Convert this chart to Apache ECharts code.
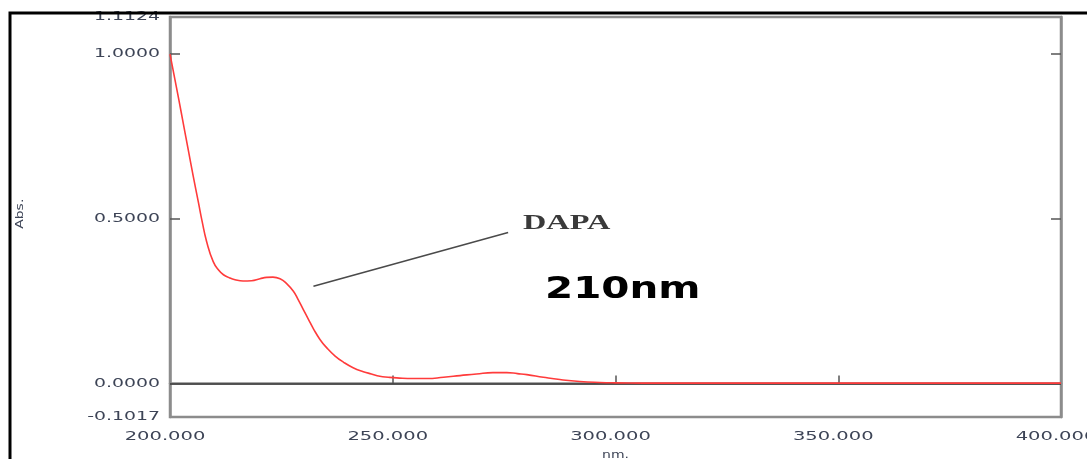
<!DOCTYPE html>
<html>
<head>
<meta charset="utf-8">
<script src="https://cdn.jsdelivr.net/npm/echarts@6/dist/echarts.min.js"></script>
<style>
  html, body { margin: 0; padding: 0; background: #fff; }
  #chart { width: 1087px; height: 459px; }
</style>
</head>
<body>
<div id="chart"></div>
<script>
// UV absorption spectrum of DAPA (wavelength in nm, absorbance)
const wavelengths = [200, 201, 202, 203, 204.1, 205.2, 206.4, 207.2, 208.2, 209.7, 211.0, 212.0, 213.3, 214.6, 216.4, 218.3, 220.2, 221.7, 223.1, 224.7, 226.2, 227.7, 228.8, 229.9, 231.1, 232.2, 233.7, 235.2, 237.0, 238.9, 241.1, 243.4, 245.2, 247.1, 249.0, 250.9, 254.6, 257.7, 261.4, 265.1, 268.8, 272.5, 275.6, 278.0, 280.1, 283.8, 287.5, 292.0, 296.5, 300, 310, 320, 330, 340, 350, 360, 370, 380, 390, 400];
const absorbance = [1.000, 0.930, 0.860, 0.788, 0.709, 0.630, 0.548, 0.493, 0.432, 0.370, 0.343, 0.330, 0.321, 0.315, 0.311, 0.312, 0.318, 0.322, 0.323, 0.318, 0.303, 0.280, 0.254, 0.225, 0.194, 0.166, 0.133, 0.108, 0.084, 0.065, 0.048, 0.036, 0.029, 0.022, 0.019, 0.017, 0.015, 0.015, 0.019, 0.024, 0.029, 0.033, 0.033, 0.030, 0.027, 0.019, 0.012, 0.006, 0.003, 0.002, 0.001, 0.001, 0.001, 0.001, 0.001, 0.001, 0.001, 0.001, 0.001, 0.001];
const yTickLabels = [-0.1017, 0, 0.5, 1, 1.1124];
const xTickLabels = [200, 250, 300, 350, 400];
const compoundName = 'DAPA';
const wavelengthNote = '210nm';

const chart = echarts.init(document.getElementById('chart'), null, { renderer: 'canvas' });

const tickFont = '13px "DejaVu Sans", Verdana, sans-serif';
const tickColor = '#3d4456';

chart.setOption({
  backgroundColor: '#ffffff',
  animation: false,
  grid: {
    left: 170, right: 26, top: 17, bottom: 42,
    outerBoundsMode: 'none', containLabel: false,
    show: true, borderColor: '#8c8c8c', borderWidth: 2.5,
    backgroundColor: 'transparent'
  },
  xAxis: {
    type: 'value', min: 200, max: 400,
    axisLine: { show: true, lineStyle: { color: '#8c8c8c', width: 2.5 } },
    axisTick: { show: true, inside: true, length: 8, customValues: [250, 300, 350],
                lineStyle: { color: '#555', width: 1.5 } },
    axisLabel: { show: false },
    splitLine: { show: false }
  },
  yAxis: [{
    type: 'value', min: -0.1017, max: 1.1124,
    axisLine: { show: true, lineStyle: { color: '#8c8c8c', width: 2.5 } },
    axisTick: { show: true, inside: true, length: 10, customValues: [0.5, 1],
                lineStyle: { color: '#555', width: 1.5 } },
    axisLabel: { show: false },
    splitLine: { show: false }
  }, {
    type: 'value', min: -0.1017, max: 1.1124, position: 'right',
    axisLine: { show: true, lineStyle: { color: '#8c8c8c', width: 2.5 } },
    axisTick: { show: true, inside: true, length: 10, customValues: [0.5, 1],
                lineStyle: { color: '#555', width: 1.5 } },
    axisLabel: { show: false },
    splitLine: { show: false }
  }],
  series: [{
    type: 'line',
    data: wavelengths.map((w, i) => [w, absorbance[i]]),
    smooth: 0.5,
    showSymbol: false,
    lineStyle: { color: '#ff3b3b', width: 1.6 },
    z: 3,
    markLine: {
      silent: true, symbol: 'none', label: { show: false }, z: 2,
      data: [
        [{ coord: [200, 0], lineStyle: { color: '#3a3a3a', width: 1.5, type: 'solid' } },
         { coord: [400, 0] }],
        [{ coord: [232.2, 0.295], lineStyle: { color: '#4a4a4a', width: 1.6, type: 'solid' } },
         { coord: [275.9, 0.458] }]
      ]
    }
  }]
});

// Tick labels and axis names, placed on the axis scales and widened like the instrument printout
const labels = [];
yTickLabels.forEach(v => {
  const p = chart.convertToPixel({ xAxisIndex: 0, yAxisIndex: 0 }, [200, v]);
  labels.push({
    type: 'text', x: p[0] - 10, y: p[1], scaleX: 1.45, z: 5, silent: true,
    style: { text: v.toFixed(4), font: tickFont, fill: tickColor, align: 'right', verticalAlign: 'middle' }
  });
});
xTickLabels.forEach(v => {
  const p = chart.convertToPixel({ xAxisIndex: 0, yAxisIndex: 0 }, [v, -0.1017]);
  labels.push({
    type: 'text', x: p[0] - 5, y: p[1] + 20, scaleX: 1.5, z: 5, silent: true,
    style: { text: v.toFixed(3), font: tickFont, fill: tickColor, align: 'center', verticalAlign: 'middle' }
  });
});
const midX = chart.convertToPixel({ xAxisIndex: 0 }, 300);
const midY = chart.convertToPixel({ yAxisIndex: 0 }, 0.5);
labels.push({
  type: 'text', x: midX, y: 455, scaleX: 1.4, z: 5, silent: true,
  style: { text: 'nm.', font: '10px "DejaVu Sans", sans-serif', fill: tickColor, align: 'center', verticalAlign: 'middle' }
});
labels.push({
  type: 'text', x: 20, y: midY - 5, rotation: Math.PI / 2, scaleX: 1.4, z: 5, silent: true,
  style: { text: 'Abs.', font: '10px "DejaVu Sans", sans-serif', fill: tickColor, align: 'center', verticalAlign: 'middle' }
});

// Annotation texts
labels.push({
  type: 'text', x: 523, y: 212, scaleX: 1.47, z: 10, silent: true,
  style: { text: compoundName, font: 'bold 22px "Liberation Serif", "DejaVu Serif", serif', fill: '#3a3a3a', align: 'left', verticalAlign: 'top' }
});
labels.push({
  type: 'text', x: 545, y: 275, scaleX: 1.35, z: 10, silent: true,
  style: { text: wavelengthNote, font: 'bold 30px "DejaVu Sans", Verdana, sans-serif', fill: '#000', align: 'left', verticalAlign: 'top' }
});

// Outer frame around the figure
labels.push({
  type: 'rect', z: 100, silent: true,
  shape: { x: 10, y: 13, width: 1100, height: 470 },
  style: { fill: 'none', stroke: '#000', lineWidth: 3 }
});

chart.setOption({ graphic: labels });
</script>
</body>
</html>
